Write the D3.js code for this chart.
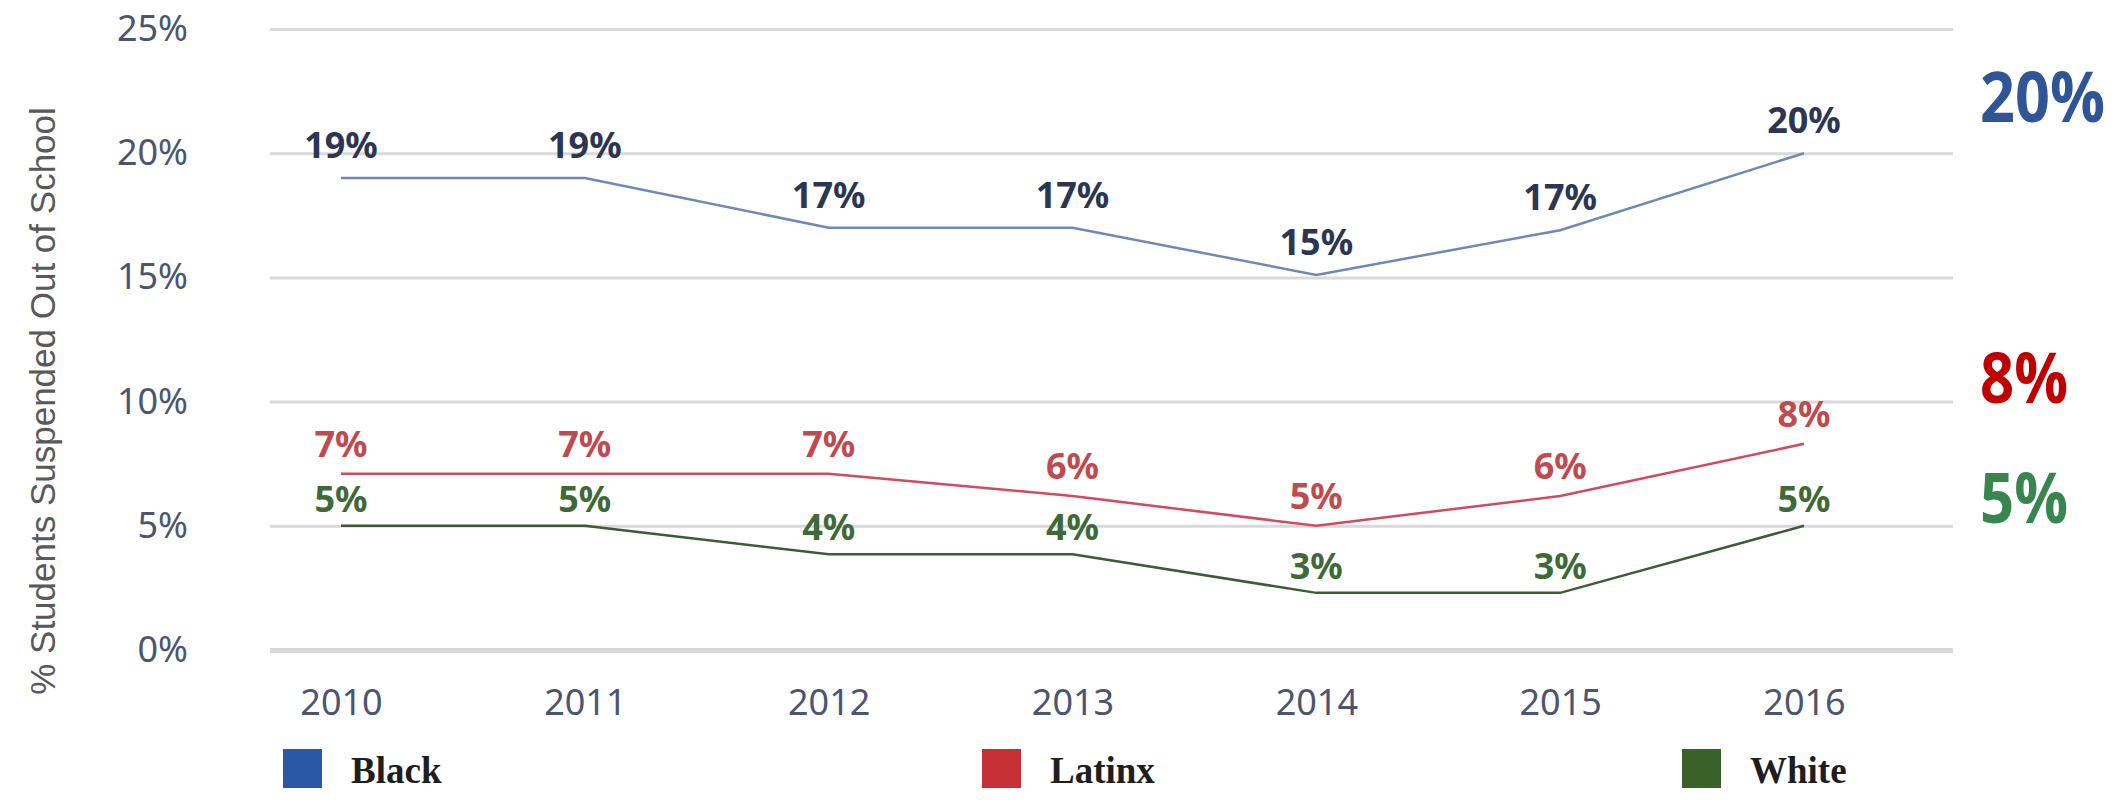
<!DOCTYPE html>
<html>
<head>
<meta charset="utf-8">
<script src="https://cdn.jsdelivr.net/npm/d3@7"></script>
<style>
  body { margin: 0; background: #fff; }
  svg { display: block; }
</style>
</head>
<body>
<svg width="2125" height="800"></svg>
<script>
// data
var years = [2010, 2011, 2012, 2013, 2014, 2015, 2016];
var blackVals = [19, 19, 17, 17, 15.1, 16.9, 20];
var latinxVals = [7.1, 7.1, 7.1, 6.2, 5.0, 6.2, 8.3];
var whiteVals = [5.0, 5.0, 3.85, 3.85, 2.3, 2.3, 5.0];
var blackLabels = ["19%", "19%", "17%", "17%", "15%", "17%", "20%"];
var latinxLabels = ["7%", "7%", "7%", "6%", "5%", "6%", "8%"];
var whiteLabels = ["5%", "5%", "4%", "4%", "3%", "3%", "5%"];
var yTicks = [0, 5, 10, 15, 20, 25];
var seriesNames = ["Black", "Latinx", "White"];
var latestLabels = ["20%", "8%", "5%"];

var series = [
  { name: "Black", values: blackVals, labels: blackLabels, line: "#7088b8", text: "#2c3552", swatch: "#2a58a6", big: "#2f5597", dy: -20 },
  { name: "Latinx", values: latinxVals, labels: latinxLabels, line: "#d44a5c", text: "#c04a4d", swatch: "#c62f33", big: "#c00000", dy: -17 },
  { name: "White", values: whiteVals, labels: whiteLabels, line: "#3d5c35", text: "#3f6a38", swatch: "#3a6127", big: "#37864f", dy: -14 }
];

var svg = d3.select("svg");
var left = 270, right = 1953;

var x = d3.scaleLinear().domain([2010, 2016]).range([341, 1804]);
var y = d3.scaleLinear().domain([0, 25]).range([650, 29]);

// y axis + gridlines
var yAxis = svg.append("g")
  .attr("transform", "translate(" + left + ",0)")
  .call(d3.axisLeft(y)
    .tickValues(yTicks)
    .tickSize(-(right - left))
    .tickPadding(82)
    .tickFormat(function (d) { return d + "%"; }));
yAxis.select(".domain").remove();
yAxis.selectAll(".tick line")
  .attr("stroke", "#d9d9d9")
  .attr("stroke-width", function (d) { return d === 0 ? 5 : 3; });
yAxis.selectAll(".tick text")
  .attr("fill", "#4b5570")
  .style("font-family", "'Noto Sans', sans-serif")
  .style("font-size", "36px");

// x axis
var xAxis = svg.append("g")
  .attr("transform", "translate(0,650)")
  .call(d3.axisBottom(x)
    .tickValues(years)
    .tickSize(0)
    .tickPadding(39)
    .tickFormat(d3.format("d")));
xAxis.select(".domain").remove();
xAxis.selectAll(".tick text")
  .attr("fill", "#4b5570")
  .style("font-family", "'Noto Sans', sans-serif")
  .style("font-size", "36px");

// y axis title
svg.append("text")
  .attr("transform", "translate(55,401) rotate(-90)")
  .attr("text-anchor", "middle")
  .attr("fill", "#595959")
  .style("font-family", "'Liberation Sans', Arial, sans-serif")
  .style("font-size", "35px")
  .text("% Students Suspended Out of School");

var line = d3.line()
  .x(function (d, i) { return x(years[i]); })
  .y(function (d) { return y(d); });

series.forEach(function (s) {
  svg.append("path")
    .datum(s.values)
    .attr("fill", "none")
    .attr("stroke", s.line)
    .attr("stroke-width", 2.5)
    .attr("d", line);

  svg.selectAll(".lbl-" + s.name)
    .data(s.values)
    .enter()
    .append("text")
    .attr("class", "lbl-" + s.name)
    .attr("x", function (d, i) { return x(years[i]); })
    .attr("y", function (d) { return y(d) + s.dy; })
    .attr("text-anchor", "middle")
    .attr("fill", s.text)
    .style("font-family", "'Noto Sans', sans-serif")
    .style("font-weight", "bold")
    .style("font-size", "36px")
    .text(function (d, i) { return s.labels[i]; });
});

// big labels on the right
var bigY = [122, 403, 523];
svg.selectAll(".big")
  .data(series)
  .enter()
  .append("text")
  .attr("class", "big")
  .attr("x", 1980)
  .attr("y", function (d, i) { return bigY[i]; })
  .attr("fill", function (d) { return d.big; })
  .attr("textLength", function (d, i) { return latestLabels[i].length === 3 ? 125 : 88; })
  .attr("lengthAdjust", "spacingAndGlyphs")
  .style("font-family", "'Open Sans', sans-serif")
  .style("font-weight", "bold")
  .style("font-size", "70px")
  .text(function (d, i) { return latestLabels[i]; });

// legend
var legendX = [283, 982, 1682];
var legend = svg.selectAll(".legend")
  .data(series)
  .enter()
  .append("g")
  .attr("class", "legend")
  .attr("transform", function (d, i) { return "translate(" + legendX[i] + ",749)"; });

legend.append("rect")
  .attr("width", 39)
  .attr("height", 39)
  .attr("fill", function (d) { return d.swatch; });

legend.append("text")
  .attr("x", 68)
  .attr("y", 34)
  .attr("fill", "#1e1e1e")
  .style("font-family", "'Liberation Serif', 'Times New Roman', serif")
  .style("font-weight", "bold")
  .style("font-size", "37px")
  .text(function (d, i) { return seriesNames[i]; });
</script>
</body>
</html>
